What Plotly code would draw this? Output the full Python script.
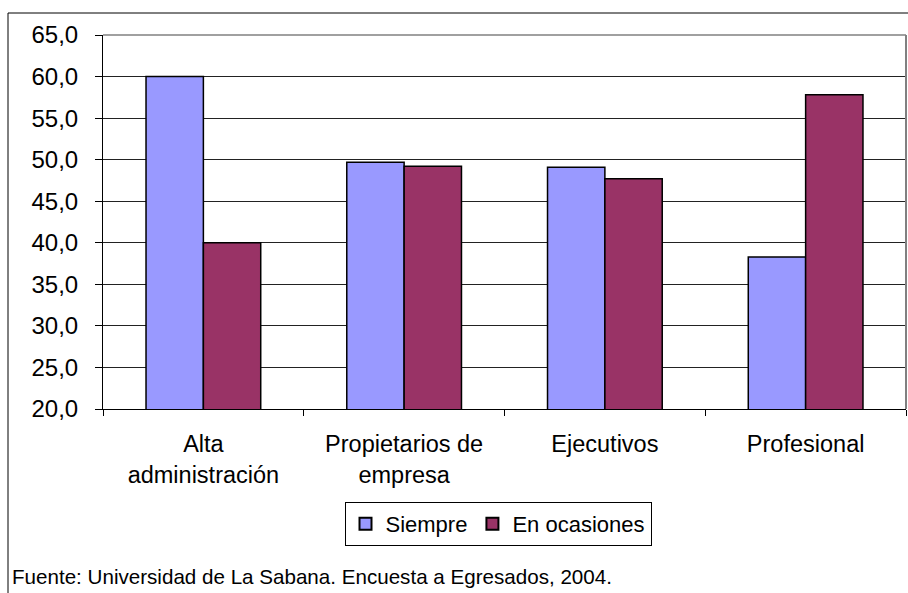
import plotly.graph_objects as go

categorias = ["Alta<br>administración", "Propietarios de<br>empresa", "Ejecutivos", "Profesional"]
siempre = [60.0, 49.7, 49.1, 38.3]
en_ocasiones = [40.0, 49.2, 47.7, 57.8]
ticks_y = [20, 25, 30, 35, 40, 45, 50, 55, 60, 65]
ticks_y_texto = ["20,0", "25,0", "30,0", "35,0", "40,0", "45,0", "50,0", "55,0", "60,0", "65,0"]
fuente = "Fuente: Universidad de La Sabana. Encuesta a Egresados, 2004."

W, H = 908, 593
ML, MR, MT, MB = 103, 2, 35, 184
PW, PH = W - ML - MR, H - MT - MB

def px_x(p):
    return (p - ML) / PW

def px_y(p):
    return (H - MB - p) / PH

font = dict(family="Liberation Sans, Arial, sans-serif", size=21, color="black")

fig = go.Figure()
fig.add_trace(go.Bar(
    name="Siempre", x=categorias, y=siempre,
    marker=dict(color="#9999FF", line=dict(color="black", width=1.5)),
))
fig.add_trace(go.Bar(
    name="En ocasiones", x=categorias, y=en_ocasiones,
    marker=dict(color="#993366", line=dict(color="black", width=1.5)),
))

fig.update_layout(
    width=W, height=H,
    margin=dict(l=ML, r=MR, t=MT, b=MB),
    paper_bgcolor="white", plot_bgcolor="white",
    font=font,
    barmode="group", bargap=0.4286, bargroupgap=0,
    showlegend=True,
    legend=dict(
        orientation="h", x=px_x(498), y=px_y(502), xanchor="center", yanchor="top",
        bordercolor="black", borderwidth=1, bgcolor="white",
        font=dict(size=22), itemsizing="constant", itemwidth=30,
        traceorder="normal",
    ),
    xaxis=dict(
        showgrid=False, showline=True, linecolor="black", linewidth=1,
        ticks="outside", tickson="boundaries", ticklen=6, tickcolor="black",
        tickfont=dict(size=23.5), ticklabelstandoff=14, fixedrange=True,
    ),
    yaxis=dict(
        range=[20, 65], tickvals=ticks_y, ticktext=ticks_y_texto,
        showgrid=True, gridcolor="#222222", gridwidth=1,
        showline=True, linecolor="black", linewidth=1,
        ticks="outside", ticklen=7, tickcolor="black",
        tickfont=dict(size=24), ticklabelstandoff=12, zeroline=False,
    ),
    shapes=[
        # plot area border (top and right in gray)
        dict(type="line", xref="paper", yref="paper", x0=0, x1=1, y0=1, y1=1,
             line=dict(color="#808080", width=1.5)),
        dict(type="line", xref="paper", yref="paper", x0=1, x1=1, y0=0, y1=1,
             line=dict(color="#808080", width=2)),
        # outer chart frame
        dict(type="rect", xref="paper", yref="paper",
             x0=px_x(8), x1=px_x(915), y0=px_y(13), y1=px_y(610),
             line=dict(color="black", width=1), layer="above"),
    ],
    annotations=[
        dict(text=fuente, xref="paper", yref="paper", x=px_x(10), y=px_y(576),
             xanchor="left", yanchor="middle", showarrow=False,
             font=dict(size=20.6)),
    ],
)

fig.write_html("out.html")
